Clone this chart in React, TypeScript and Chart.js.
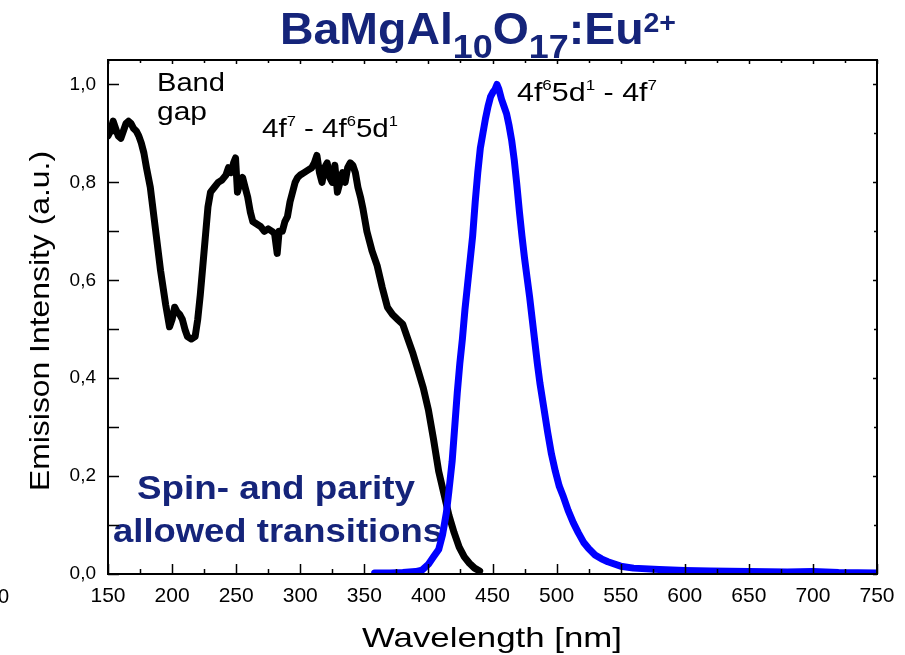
import React, { useEffect, useRef } from 'react';
import { Chart, registerables } from 'chart.js';

Chart.register(...registerables);

// ---------- data ----------
const excitationWavelengths = [
  150, 152, 154, 156, 158, 160, 162, 164, 166, 168, 170, 172, 174, 176, 178, 180, 183, 187, 191, 195,
  198, 200, 202, 204, 206, 208, 210, 212, 215, 218, 220, 222, 224, 226, 228, 230, 233, 236, 239, 242,
  244, 246, 248, 249.5, 251, 253, 255, 257, 259, 261, 263, 266, 269, 272, 275, 278, 280, 282, 283.5, 286,
  288, 290, 292, 294, 296, 298, 300, 303, 306, 309, 311, 313, 315, 317, 319, 321, 323, 325, 327, 329,
  331, 333, 335, 337, 339, 341, 343, 345, 347, 349, 352, 356, 360, 364, 368, 372, 376, 380, 384, 388,
  392, 396, 400, 404, 408, 412, 416, 420, 424, 428, 432, 436, 440,
];
const excitationIntensity = [
  0.895, 0.905, 0.925, 0.91, 0.895, 0.89, 0.905, 0.92, 0.925, 0.92, 0.91, 0.905, 0.895, 0.88, 0.86, 0.83, 0.79, 0.705, 0.62, 0.55,
  0.505, 0.52, 0.545, 0.535, 0.53, 0.52, 0.5, 0.485, 0.48, 0.485, 0.52, 0.57, 0.63, 0.69, 0.75, 0.78, 0.79, 0.8, 0.805, 0.815,
  0.83, 0.82, 0.84, 0.85, 0.78, 0.8, 0.81, 0.79, 0.77, 0.74, 0.72, 0.715, 0.71, 0.7, 0.705, 0.7, 0.695, 0.655, 0.7, 0.7,
  0.72, 0.73, 0.76, 0.78, 0.8, 0.81, 0.815, 0.82, 0.825, 0.83, 0.84, 0.855, 0.82, 0.8, 0.83, 0.84, 0.81, 0.8, 0.835, 0.78,
  0.8, 0.82, 0.8, 0.83, 0.84, 0.835, 0.82, 0.79, 0.77, 0.745, 0.7, 0.66, 0.63, 0.585, 0.545, 0.53, 0.52, 0.51, 0.48, 0.45,
  0.415, 0.38, 0.335, 0.275, 0.21, 0.165, 0.12, 0.085, 0.055, 0.035, 0.022, 0.012, 0.006,
];

const emissionWavelengths = [
  358, 370, 380, 390, 395, 400, 404, 408, 411, 414, 416, 418.5, 420.5, 422.5, 424.5, 426.5, 428.5, 430.5, 432.5, 434.5,
  436.5, 438.5, 440.5, 442.5, 444.5, 446.5, 448.5, 450.5, 452, 453.5, 455, 457, 459, 461, 463, 465, 467, 469, 471, 473,
  475, 477, 479, 481, 483, 485, 487, 490, 493, 496, 499, 502, 505, 509, 513, 517, 521, 525, 530, 535,
  540, 550, 560, 580, 600, 620, 650, 680, 700, 720, 750,
];
const emissionIntensity = [
  0.002, 0.002, 0.003, 0.005, 0.008, 0.02, 0.035, 0.05, 0.08, 0.125, 0.17, 0.23, 0.3, 0.37, 0.43, 0.48, 0.54, 0.59, 0.64, 0.69,
  0.76, 0.82, 0.87, 0.9, 0.93, 0.955, 0.975, 0.985, 0.99, 1.0, 0.99, 0.97, 0.955, 0.94, 0.915, 0.885, 0.845, 0.795, 0.74, 0.69,
  0.645, 0.605, 0.565, 0.52, 0.475, 0.43, 0.39, 0.34, 0.29, 0.245, 0.21, 0.18, 0.16, 0.13, 0.105, 0.084, 0.065, 0.052, 0.039, 0.031,
  0.025, 0.016, 0.012, 0.009, 0.007, 0.006, 0.005, 0.004, 0.005, 0.003, 0.002,
];

const xTickValues = [150, 200, 250, 300, 350, 400, 450, 500, 550, 600, 650, 700, 750];
const xMinorTickValues = [175, 225, 275, 325, 375, 425, 475, 525, 575, 625, 675, 725];
const yTickValues = [0, 0.2, 0.4, 0.6, 0.8, 1.0];
const yMinorTickValues = [0.1, 0.3, 0.5, 0.7, 0.9];

const xAxisTitle = 'Wavelength [nm]';
const yAxisTitle = 'Emisison Intensity (a.u.)';

// ---------- styling ----------
const FONT = '"Liberation Sans", Arial, Helvetica, sans-serif';
const NAVY = '#15247a';

type Seg = { t: string; size: number; dy?: number };

function drawRich(
  ctx: CanvasRenderingContext2D,
  segs: Seg[],
  x: number,
  y: number,
  opt: { bold?: boolean; color: string; align?: 'left' | 'center'; width?: number }
) {
  const weight = opt.bold ? 'bold ' : '';
  ctx.save();
  let total = 0;
  const widths = segs.map((s) => {
    ctx.font = `${weight}${s.size}px ${FONT}`;
    const w = ctx.measureText(s.t).width;
    total += w;
    return w;
  });
  const sx = opt.width ? opt.width / total : 1;
  const drawn = total * sx;
  const x0 = opt.align === 'center' ? x - drawn / 2 : x;
  ctx.translate(x0, y);
  ctx.scale(sx, 1);
  ctx.fillStyle = opt.color;
  ctx.textAlign = 'left';
  ctx.textBaseline = 'alphabetic';
  let cx = 0;
  segs.forEach((s, i) => {
    ctx.font = `${weight}${s.size}px ${FONT}`;
    ctx.fillText(s.t, cx, s.dy || 0);
    cx += widths[i];
  });
  ctx.restore();
}

const decorPlugin = {
  id: 'decor',
  beforeDatasetsDraw(chart: any) {
    const ctx: CanvasRenderingContext2D = chart.ctx;
    drawRich(ctx, [{ t: 'Spin- and parity', size: 34 }], 276, 499, { bold: true, color: NAVY, align: 'center', width: 278 });
    drawRich(ctx, [{ t: 'allowed transitions', size: 34 }], 278, 542, { bold: true, color: NAVY, align: 'center', width: 330 });
  },
  afterDraw(chart: any) {
    const ctx: CanvasRenderingContext2D = chart.ctx;
    const { left, right, top, bottom } = chart.chartArea;
    const xs = chart.scales.x;
    const ys = chart.scales.y;

    ctx.save();
    ctx.strokeStyle = '#000';
    ctx.lineWidth = 1.5;
    ctx.beginPath();
    const tickX = (v: number, len: number, topLen: number) => {
      const p = Math.round(xs.getPixelForValue(v)) + 0.5;
      ctx.moveTo(p, bottom);
      ctx.lineTo(p, bottom - len);
      ctx.moveTo(p, top);
      ctx.lineTo(p, top + topLen);
    };
    xTickValues.forEach((v) => tickX(v, 10, 4));
    xMinorTickValues.forEach((v) => tickX(v, 5, 3));
    const tickY = (v: number, len: number, rLen: number) => {
      const p = Math.round(ys.getPixelForValue(v)) + 0.5;
      ctx.moveTo(left, p);
      ctx.lineTo(left + len, p);
      ctx.moveTo(right, p);
      ctx.lineTo(right - rLen, p);
    };
    yTickValues.forEach((v) => tickY(v, 11, 4));
    yMinorTickValues.forEach((v) => tickY(v, 11, 3));
    ctx.stroke();
    ctx.lineWidth = 2;
    ctx.strokeRect(left, top, right - left, bottom - top);
    ctx.restore();

    // Title
    drawRich(
      ctx,
      [
        { t: 'BaMgAl', size: 44 },
        { t: '10', size: 34, dy: 14 },
        { t: 'O', size: 44 },
        { t: '17', size: 34, dy: 14 },
        { t: ':Eu', size: 44 },
        { t: '2+', size: 27, dy: -12 },
      ],
      280,
      44,
      { bold: true, color: NAVY, width: 396 }
    );

    // Annotations
    drawRich(ctx, [{ t: 'Band', size: 25 }], 157, 91, { color: '#000', width: 68 });
    drawRich(ctx, [{ t: 'gap', size: 25 }], 157, 120, { color: '#000', width: 50 });
    drawRich(
      ctx,
      [
        { t: '4f', size: 25 },
        { t: '7', size: 14, dy: -11 },
        { t: ' - 4f', size: 25 },
        { t: '6', size: 14, dy: -11 },
        { t: '5d', size: 25 },
        { t: '1', size: 14, dy: -11 },
      ],
      262,
      137,
      { color: '#000', width: 136 }
    );
    drawRich(
      ctx,
      [
        { t: '4f', size: 25 },
        { t: '6', size: 14, dy: -11 },
        { t: '5d', size: 25 },
        { t: '1', size: 14, dy: -11 },
        { t: ' - 4f', size: 25 },
        { t: '7', size: 14, dy: -11 },
      ],
      517,
      101,
      { color: '#000', width: 140 }
    );

    // Axis titles
    drawRich(ctx, [{ t: xAxisTitle, size: 28 }], 362, 647, { color: '#000', width: 260 });
    ctx.save();
    ctx.translate(49, 321);
    ctx.rotate(-Math.PI / 2);
    drawRich(ctx, [{ t: yAxisTitle, size: 28 }], 0, 0, { color: '#000', align: 'center', width: 340 });
    ctx.restore();

    // stray clipped label at the left edge
    drawRich(ctx, [{ t: '0', size: 20 }], -2, 603, { color: '#000' });
  },
};

export default function App() {
  const canvasRef = useRef<HTMLCanvasElement | null>(null);

  useEffect(() => {
    if (!canvasRef.current) return;
    const chart = new Chart(canvasRef.current, {
      type: 'line',
      data: {
        datasets: [
          {
            label: 'Emission',
            data: emissionWavelengths.map((x, i) => ({ x, y: emissionIntensity[i] })),
            borderColor: '#0000ff',
            borderWidth: 7,
            pointRadius: 0,
            tension: 0,
            fill: false,
            borderJoinStyle: 'round',
            borderCapStyle: 'round',
            order: 0,
          },
          {
            label: 'Excitation',
            data: excitationWavelengths.map((x, i) => ({ x, y: excitationIntensity[i] })),
            borderColor: '#000000',
            borderWidth: 7,
            pointRadius: 0,
            tension: 0,
            fill: false,
            borderJoinStyle: 'round',
            borderCapStyle: 'round',
            order: 1,
          },
        ],
      },
      options: {
        animation: false,
        responsive: false,
        maintainAspectRatio: false,
        layout: { padding: { top: 60, right: 28, bottom: 0, left: 0 } },
        plugins: {
          legend: { display: false },
          tooltip: { enabled: false },
          title: { display: false },
        },
        scales: {
          x: {
            type: 'linear',
            min: 150,
            max: 750,
            grid: { display: false, drawTicks: false },
            border: { display: false },
            ticks: {
              padding: 10,
              color: '#000',
              font: { family: FONT, size: 21 },
              maxRotation: 0,
              autoSkip: false,
              callback: (v: any) => String(v),
            },
            afterBuildTicks: (s: any) => {
              s.ticks = xTickValues.map((value) => ({ value }));
            },
            afterFit: (s: any) => {
              s.height = 81;
            },
          },
          y: {
            type: 'linear',
            min: 0,
            max: 1.05,
            grid: { display: false, drawTicks: false },
            border: { display: false },
            ticks: {
              padding: 12,
              color: '#000',
              font: { family: FONT, size: 19 },
              autoSkip: false,
              callback: (v: any) => Number(v).toFixed(1).replace('.', ','),
            },
            afterBuildTicks: (s: any) => {
              s.ticks = yTickValues.map((value) => ({ value }));
            },
            afterFit: (s: any) => {
              s.width = 108;
            },
          },
        },
      } as any,
      plugins: [decorPlugin],
    });
    return () => chart.destroy();
  }, []);

  return (
    <div style={{ position: 'absolute', left: 0, top: 0, width: 905, height: 655, background: '#fff' }}>
      <canvas ref={canvasRef} width={905} height={655} style={{ display: 'block' }} />
    </div>
  );
}
